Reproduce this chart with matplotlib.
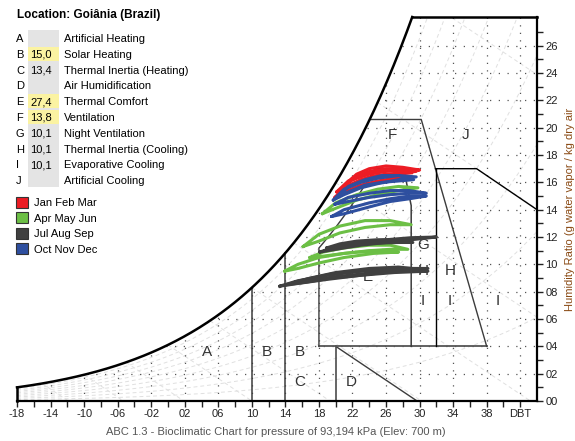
import numpy as np
import matplotlib.pyplot as plt
from matplotlib.patches import Polygon, Rectangle

PRESSURE = 93.194
XMIN, XMAX = -18, 44
YTOP = 28.1

zoneLetters = ["A", "B", "C", "D", "E", "F", "G", "H", "I", "J"]
zoneValues = ["", "15,0", "13,4", "", "27,4", "13,8", "10,1", "10,1", "10,1", ""]
zoneNames = ["Artificial Heating", "Solar Heating", "Thermal Inertia (Heating)",
             "Air Humidification", "Thermal Comfort", "Ventilation",
             "Night Ventilation", "Thermal Inertia (Cooling)",
             "Evaporative Cooling", "Artificial Cooling"]
highlighted = ["B", "E", "F"]

seasonNames = ["Jan Feb Mar", "Apr May Jun", "Jul Aug Sep", "Oct Nov Dec"]
seasonColors = ["#ec1c24", "#6cbf45", "#404040", "#2e4f9f"]

# daily loops: dry bulb temp, humidity ratio going up, humidity ratio coming back
janFebMar = [
  ([21.4, 22.5, 24.0, 26.0, 28.0, 30.0], [16.0, 16.6, 17.0, 17.2, 17.1, 16.9], [16.0, 16.3, 16.6, 16.8, 16.9, 16.9]),
  ([20.1, 21.5, 23.5, 25.5, 27.5, 29.1], [15.3, 16.1, 16.6, 16.9, 16.9, 16.7], [15.3, 15.7, 16.2, 16.5, 16.6, 16.7]),
  ([19.9, 21.0, 23.0, 25.0, 27.0, 28.6], [14.9, 15.6, 16.2, 16.5, 16.5, 16.4], [14.9, 15.3, 15.8, 16.1, 16.3, 16.4]),
  ([20.8, 22.0, 24.0, 26.0, 28.0, 29.6], [15.6, 16.3, 16.8, 17.0, 17.0, 16.8], [15.6, 15.9, 16.4, 16.6, 16.7, 16.8]),
]
aprMayJun = [
  ([18.4, 20.0, 22.5, 25.0, 27.5, 29.8], [13.7, 14.5, 15.1, 15.5, 15.7, 15.6], [13.7, 14.1, 14.7, 15.1, 15.4, 15.6]),
  ([16.1, 18.0, 20.5, 23.5, 26.5, 29.0], [11.3, 12.2, 12.8, 13.2, 13.2, 12.9], [11.3, 11.7, 12.3, 12.7, 12.9, 12.9]),
  ([16.9, 18.5, 21.0, 24.0, 26.5, 28.6], [10.5, 10.9, 11.2, 11.4, 11.4, 11.1], [10.5, 10.6, 10.8, 11.0, 11.1, 11.1]),
  ([13.9, 15.5, 18.0, 21.0, 24.5, 27.5], [9.5, 10.0, 10.5, 10.8, 11.0, 10.9], [9.5, 9.7, 10.1, 10.5, 10.8, 10.9]),
]
julAugSep = [
  ([18.1, 20.0, 23.0, 26.0, 29.0, 32.0], [10.9, 11.3, 11.6, 11.8, 11.95, 12.0], [10.9, 11.1, 11.4, 11.6, 11.8, 12.0]),
  ([18.9, 20.5, 22.5, 25.0, 27.5, 29.2], [11.2, 11.5, 11.7, 11.8, 11.8, 11.6], [11.2, 11.3, 11.45, 11.55, 11.6, 11.6]),
  ([13.3, 15.5, 19.0, 23.0, 27.0, 31.0], [8.4, 8.8, 9.2, 9.5, 9.7, 9.7], [8.4, 8.6, 8.9, 9.2, 9.5, 9.7]),
  ([15.1, 17.0, 20.0, 24.0, 27.5, 30.8], [8.7, 9.0, 9.4, 9.7, 9.8, 9.6], [8.7, 8.85, 9.1, 9.35, 9.5, 9.6]),
  ([14.0, 16.5, 19.5, 23.0, 27.0, 31.0], [8.5, 8.9, 9.3, 9.5, 9.6, 9.5], [8.5, 8.7, 9.0, 9.2, 9.4, 9.5]),
]
octNovDec = [
  ([19.7, 21.0, 23.0, 25.0, 27.5, 29.6], [14.7, 15.5, 16.0, 16.3, 16.5, 16.4], [14.7, 15.1, 15.6, 15.9, 16.2, 16.4]),
  ([20.4, 21.5, 23.5, 25.5, 27.5, 29.3], [15.0, 15.7, 16.2, 16.5, 16.5, 16.2], [15.0, 15.3, 15.8, 16.0, 16.1, 16.2]),
  ([19.9, 21.5, 24.0, 26.5, 28.8, 30.8], [14.4, 14.9, 15.2, 15.4, 15.4, 15.2], [14.4, 14.6, 14.9, 15.1, 15.2, 15.2]),
  ([19.5, 21.0, 24.0, 26.5, 28.8, 30.8], [13.5, 14.0, 14.5, 14.8, 15.0, 15.0], [13.5, 13.7, 14.2, 14.6, 14.8, 15.0]),
]
seasonLoops = [janFebMar, aprMayJun, julAugSep, octNovDec]

zoneLabels = [("A", 4.6, 3.6), ("B", 11.8, 3.6), ("B", 15.7, 3.6), ("C", 15.7, 1.4),
              ("D", 21.9, 1.4), ("E", 23.8, 9.1), ("F", 26.8, 19.5), ("J", 35.5, 19.5),
              ("G", 30.4, 11.4), ("H", 30.4, 9.5), ("I", 30.4, 7.3),
              ("H", 33.6, 9.5), ("I", 33.6, 7.3), ("I", 39.3, 7.3)]


def vaporPressure(t):
  return 0.61094 * np.exp(17.625 * t / (t + 243.04))


def ratio(t, rh=1.0):
  pv = rh * vaporPressure(t)
  return 622.0 * pv / (PRESSURE - pv)


def tempAtRatio(w, rh=1.0):
  grid = np.linspace(-20, 50, 2000)
  return float(np.interp(w, ratio(grid, rh), grid))


def px(x, y):
  return x / 575.0, 1 - y / 441.0


plt.rcParams['font.family'] = ['Liberation Sans', 'DejaVu Sans']

fig = plt.figure(figsize=(5.75, 4.41), dpi=100)
ax = fig.add_axes([17 / 575, 40 / 441, 520 / 575, 384 / 441])
ax.set_xlim(XMIN, XMAX)
ax.set_ylim(0, YTOP)

tTop = tempAtRatio(YTOP)
curveT = np.linspace(XMIN, tTop, 300)
curveW = ratio(curveT)

clipPts = [(XMIN, 0)] + list(zip(curveT, curveW)) + [(XMAX, YTOP), (XMAX, 0)]
clipPoly = Polygon(clipPts, closed=True, facecolor='none', edgecolor='none')
ax.add_patch(clipPoly)

# background psychrometric lines (faint)
tAll = np.linspace(XMIN, XMAX, 300)
for rh in np.arange(0.1, 0.95, 0.1):
  ln, = ax.plot(tAll, ratio(tAll, rh), color='#e0e0e0', lw=0.7, dashes=(4, 3), zorder=1)
  ln.set_clip_path(clipPoly)
for twb in range(-15, 31, 5):
  ws = ratio(twb)
  tEnd = twb + ws / 0.41
  ln, = ax.plot([twb, tEnd], [ws, 0], color='#e0e0e0', lw=0.7, dashes=(4, 3), zorder=1)
  ln.set_clip_path(clipPoly)

# dotted grid
vl = ax.vlines(range(-14, 44, 4), 0, YTOP, colors='#555555', lw=0.9, linestyles=[(0, (1, 5))], zorder=1)
vl.set_clip_path(clipPoly)
hl = ax.hlines(range(2, 28, 2), XMIN, XMAX, colors='#555555', lw=0.9, linestyles=[(0, (1, 6))], zorder=1)
hl.set_clip_path(clipPoly)

# saturation curve and frame pieces
ax.plot(curveT, curveW, color='black', lw=1.8, zorder=4, clip_on=False)
ax.plot([XMIN, XMIN], [0, ratio(XMIN)], color='black', lw=1.8, zorder=4, clip_on=False)
ax.plot([tTop, XMAX], [YTOP, YTOP], color='black', lw=1.8, zorder=4, clip_on=False)

# zone boundaries
zc = '#3c3c3c'
ax.plot([10, 10], [0, ratio(10)], color=zc, lw=1.1, zorder=2)
ax.plot([14, 14], [0, ratio(14)], color=zc, lw=1.1, zorder=2)
ax.plot([20, 20], [0, 4], color=zc, lw=1.1, zorder=2)
ax.plot([20, 29.7], [4, 0], color=zc, lw=1.0, zorder=2)
ax.plot([18, 38], [4, 4], color='#555555', lw=1.3, zorder=2)
rhT = np.linspace(18, tempAtRatio(17, 0.8), 40)
ax.plot(np.r_[18, 18, rhT], np.r_[4, ratio(18, 0.8), ratio(rhT, 0.8)], color=zc, lw=1.0, zorder=2)
ax.plot([rhT[-1], 28.1, 29, 29], [17, 17, 14.3, 4], color=zc, lw=1.1, zorder=2)
ax.plot([tempAtRatio(20.6), 30.2, 38], [20.6, 20.6, 4], color=zc, lw=1.0, zorder=2)
ax.plot([32, 32], [4, 17], color='black', lw=1.0, zorder=2)
ax.plot([31.9, 36.8, 44], [17, 17, 14], color='black', lw=1.0, zorder=2)

for letter, x, y in zoneLabels:
  ax.text(x, y, letter, fontsize=11, color='#333333', ha='center', va='center', zorder=2)

# climate data
for loops, color in zip(seasonLoops, seasonColors):
  for t, wUp, wLo in loops:
    ax.plot(t + t[::-1], wUp + wLo[::-1], color=color, lw=2.2, zorder=3,
            solid_capstyle='round', solid_joinstyle='round')

# axes styling
for side in ['left', 'top']:
  ax.spines[side].set_visible(False)
for side in ['right', 'bottom']:
  ax.spines[side].set_linewidth(1.6)

xt = list(range(-18, 42, 4)) + [42]
xl = [("-%02d" % abs(v)) if v < 0 else ("%02d" % v) for v in xt[:-1]] + ["DBT"]
ax.set_xticks(xt)
ax.set_xticklabels(xl)
ax.set_xticks(range(-18, 44, 2), minor=True)
ax.yaxis.tick_right()
ax.yaxis.set_label_position('right')
ax.set_yticks(range(0, 27, 2))
ax.set_yticklabels(["%02d" % v for v in range(0, 27, 2)])
ax.set_yticks(range(0, 28, 1), minor=True)
ax.tick_params(which='both', direction='out', length=4, width=1, labelsize=8, pad=2, colors='#222222')
ax.set_ylabel("Humidity Ratio (g water vapor / kg dry air", fontsize=8, color='#8a4a14', labelpad=5)

fig.text(*px(276, 432), "ABC 1.3 - Bioclimatic Chart for pressure of 93,194 kPa (Elev: 700 m)",
         fontsize=8, color='#555555', ha='center', va='center')

# zone table
fig.text(*px(17, 15), "Location: Goiânia (Brazil)", fontsize=8.5, fontweight='bold', va='center')
fig.patches.append(Rectangle(px(28, 187), 31 / 575, 157 / 441, transform=fig.transFigure,
                             facecolor='#e4e4e4', edgecolor='none', zorder=1))
for i, (letter, value, name) in enumerate(zip(zoneLetters, zoneValues, zoneNames)):
  y = 38 + i * 15.8
  if letter in highlighted:
    fig.patches.append(Rectangle(px(28, y + 7), 31 / 575, 14 / 441, transform=fig.transFigure,
                                 facecolor='#fbf3a2', edgecolor='none', zorder=1))
  fig.text(*px(16, y + 4), letter, fontsize=8, va='baseline')
  fig.text(*px(30, y + 4), value, fontsize=8, va='baseline')
  fig.text(*px(64, y + 4), name, fontsize=8, va='baseline')

for i, (name, color) in enumerate(zip(seasonNames, seasonColors)):
  y = 202 + i * 15.5
  fig.patches.append(Rectangle(px(16, y + 5.5), 12 / 575, 11 / 441, transform=fig.transFigure,
                               facecolor=color, edgecolor='#333333', lw=0.8, zorder=1))
  fig.text(*px(34, y + 4), name, fontsize=8, va='baseline')

fig.savefig("out.png", dpi=100)
